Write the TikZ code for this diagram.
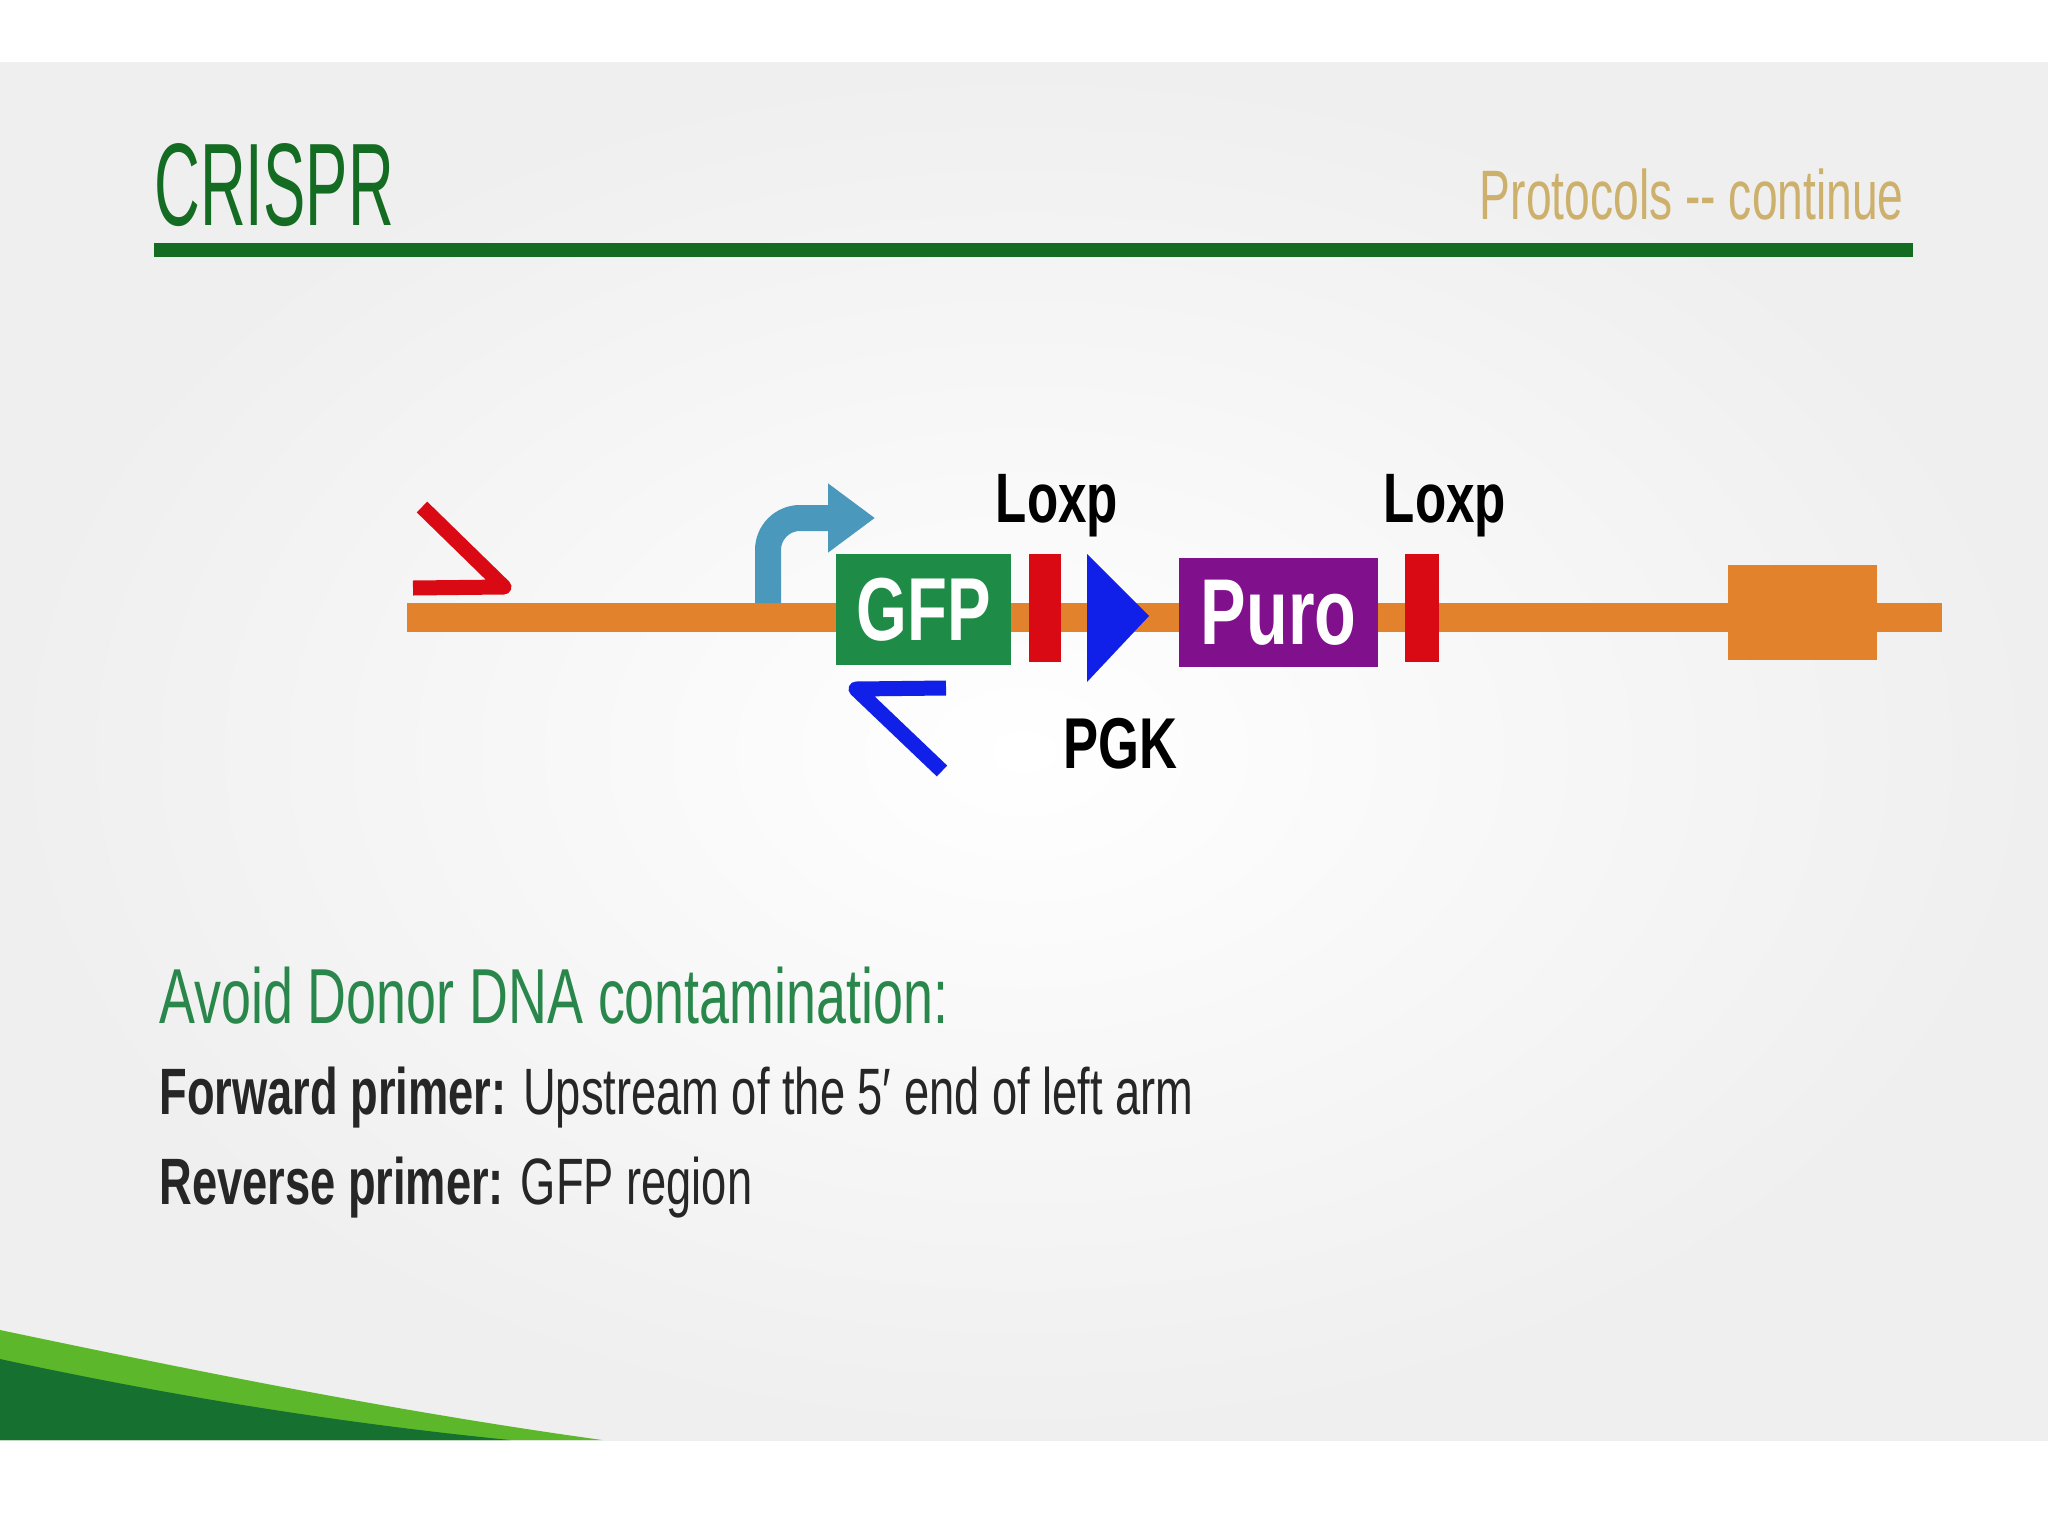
\documentclass[tikz,border=0pt]{standalone}
\usepackage{fontspec}
\setmainfont{Liberation Sans}
\newfontfamily\titlesf{Liberation Sans}[FakeStretch=0.54]
\newfontfamily\condsf{Liberation Sans}[FakeStretch=0.66]
\newfontfamily\notesf{Liberation Sans}[FakeStretch=0.69]
\newfontfamily\partsf{Liberation Sans}[FakeStretch=0.73]
\usepackage{tikz}
\usetikzlibrary{arrows.meta}
\usepackage{xcolor}
\definecolor{TitleGreen}{HTML}{146B22}
\definecolor{GoldText}{HTML}{CDB06C}
\definecolor{DnaOrange}{HTML}{E2822C}
\definecolor{GfpGreen}{HTML}{1E8C46}
\definecolor{LoxRed}{HTML}{D90A14}
\definecolor{PgkBlue}{HTML}{1020E8}
\definecolor{PuroPurple}{HTML}{80108C}
\definecolor{PromTeal}{HTML}{4A98BC}
\definecolor{NoteGreen}{HTML}{2A874B}
\definecolor{BodyGray}{HTML}{262626}
\definecolor{SwooshLight}{HTML}{5CB82A}
\definecolor{SwooshDark}{HTML}{167030}
\definecolor{SlideGray}{HTML}{EFEFEF}
\newcommand{\fs}[1]{\fontsize{#1}{#1}\selectfont}

\begin{document}
\begin{tikzpicture}[x=0.5pt,y=-0.5pt,
    partbox/.style={rectangle,inner sep=0pt,text=white,font=\partsf\bfseries},
    loxpbar/.style={rectangle,inner sep=0pt,fill=LoxRed,minimum height=54pt},
    partlbl/.style={anchor=base,inner sep=0pt,font=\partsf\bfseries},
    primer/.style={line width=7.5pt,line join=round}]
  \useasboundingbox (0,0) rectangle (2048,1536);
  \fill[white] (0,0) rectangle (2048,1536);
  \fill[inner color=white,outer color=SlideGray] (0,63) rectangle (2048,1440);

  % header
  \node[anchor=base west,inner sep=0pt,text=TitleGreen] (title) at (154,225) {\titlesf\fs{58.7}CRISPR};
  \node[anchor=base east,inner sep=0pt,text=GoldText] (sub) at (1904,219) {\condsf\fs{35}Protocols -- continue};
  \fill[TitleGreen] (154,243) rectangle (1913,257);

  % DNA
  \fill[DnaOrange] (407,603) rectangle (1942,632);
  \fill[DnaOrange] (1728,565) rectangle (1877,660);

  \draw[PromTeal,line width=13pt,rounded corners=16pt,-{Triangle[length=23.5pt,width=33pt]}]
    (768,603) -- (768,518) -- (875,518);

  \node[partbox,fill=GfpGreen,minimum width=87.5pt,minimum height=55.5pt] (gfp) at (923.5,609.5) {\fs{44.7}GFP};
  \node[loxpbar,minimum width=16pt] (loxA) at (1045,608) {};
  \fill[PgkBlue] (1087,554) -- (1149,616) -- (1087,682) -- cycle;
  \node[partbox,fill=PuroPurple,minimum width=99.5pt,minimum height=54.5pt] (puro) at (1278.5,612.5) {\fs{46.8}Puro};
  \node[loxpbar,minimum width=17pt] (loxB) at (1422,608) {};

  \node[partlbl] (loxAlbl) at (1057,522) {\fs{35}Loxp};
  \node[partlbl] (loxBlbl) at (1445,522) {\fs{35}Loxp};
  \node[partlbl] (pgk) at (1120,768) {\fs{36}PGK};

  % primers
  \draw[primer,LoxRed] (422,507) -- (504,587) -- (413,588);
  \draw[primer,PgkBlue] (946,688) -- (856,689) -- (942,771);

  % notes
  \node[anchor=base west,inner sep=0pt,text=NoteGreen] (avoid) at (159,1023) {\notesf\fs{39}Avoid Donor DNA contamination:};
  \node[anchor=base west,inner sep=0pt,text=BodyGray] (fwd) at (159,1114) {\notesf\fs{32.8}\textbf{Forward primer:} Upstream of the 5′ end of left arm};
  \node[anchor=base west,inner sep=0pt,text=BodyGray] (rev) at (159,1204) {\notesf\fs{32.8}\textbf{Reverse primer:} GFP region};

  % swoosh
  \fill[SwooshLight] (0,1330) .. controls (200,1372) and (400,1412) .. (602,1440) -- (0,1440) -- cycle;
  \fill[SwooshDark] (0,1359) .. controls (180,1398) and (350,1424) .. (510,1440) -- (0,1440) -- cycle;
\end{tikzpicture}
\end{document}
